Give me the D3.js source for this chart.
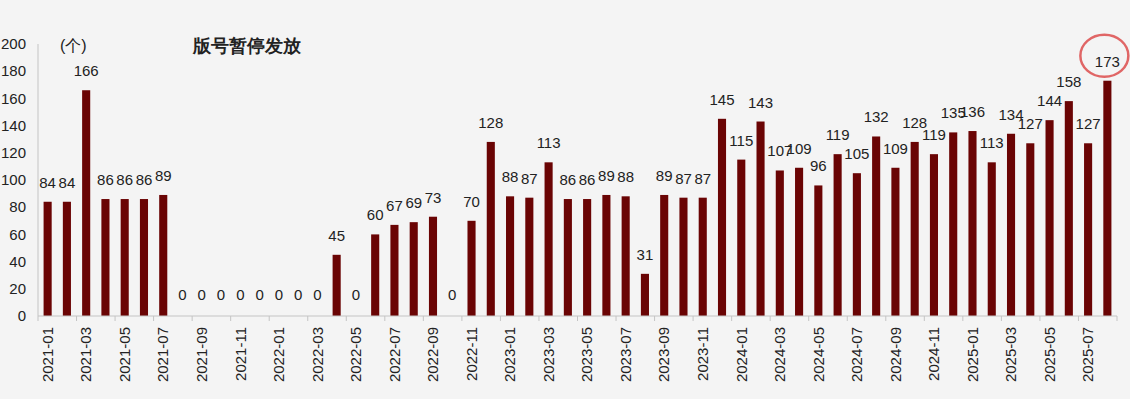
<!DOCTYPE html>
<html>
<head>
<meta charset="utf-8">
<script src="https://cdn.jsdelivr.net/npm/d3@7"></script>
<style>
  body { margin: 0; background: #f4f4f4; }
  text { font-family: "Liberation Sans", Arial, sans-serif; }
</style>
</head>
<body>
<div id="chart"></div>
<script>
// months 2021-01 .. 2025-08
const months = [
  "2021-01","2021-02","2021-03","2021-04","2021-05","2021-06","2021-07","2021-08","2021-09","2021-10","2021-11","2021-12",
  "2022-01","2022-02","2022-03","2022-04","2022-05","2022-06","2022-07","2022-08","2022-09","2022-10","2022-11","2022-12",
  "2023-01","2023-02","2023-03","2023-04","2023-05","2023-06","2023-07","2023-08","2023-09","2023-10","2023-11","2023-12",
  "2024-01","2024-02","2024-03","2024-04","2024-05","2024-06","2024-07","2024-08","2024-09","2024-10","2024-11","2024-12",
  "2025-01","2025-02","2025-03","2025-04","2025-05","2025-06","2025-07","2025-08"
];
// approved licences per month; null = no label drawn
const approvals = [
  84, 84, 166, 86, 86, 86, 89, 0, 0, 0, 0, 0,
  0, 0, 0, 45, 0, 60, 67, 69, 73, 0, 70, 128,
  88, 87, 113, 86, 86, 89, 88, 31, 89, 87, 87, 145,
  115, 143, 107, 109, 96, 119, 105, 132, 109, 128, 119, 135,
  136, 113, 134, 127, 144, 158, 127, 173
];
const yTicks = [0, 20, 40, 60, 80, 100, 120, 140, 160, 180, 200];
const title = "版号暂停发放";
const unit = "(个)";

const data = months.map((m, i) => ({ month: m, value: approvals[i] }));

const width = 1130, height = 399;
const svg = d3.select("#chart").append("svg")
  .attr("width", width)
  .attr("height", height);

svg.append("rect").attr("width", width).attr("height", height).attr("fill", "#f4f4f4");

const x = d3.scaleBand()
  .domain(months)
  .range([38, 1117])
  .paddingInner(0.58)
  .paddingOuter(0.29);

const y = d3.scaleLinear().domain([0, 200]).range([316, 44]);

// y axis labels
svg.append("g")
  .selectAll("text")
  .data(yTicks)
  .join("text")
  .attr("x", 26)
  .attr("y", d => y(d))
  .attr("dy", "0.35em")
  .attr("text-anchor", "end")
  .attr("font-size", 15)
  .attr("fill", "#222")
  .text(d => d);

// y axis line
svg.append("line")
  .attr("x1", 38).attr("x2", 38)
  .attr("y1", y(200)).attr("y2", y(0))
  .attr("stroke", "#c4c4c4");

// bars
svg.append("g")
  .selectAll("rect")
  .data(data)
  .join("rect")
  .attr("x", d => x(d.month))
  .attr("y", d => y(d.value))
  .attr("width", x.bandwidth())
  .attr("height", d => y(0) - y(d.value))
  .attr("fill", "#6a0404");

// value labels
svg.append("g")
  .selectAll("text")
  .data(data)
  .join("text")
  .attr("x", d => x(d.month) + x.bandwidth() / 2)
  .attr("y", d => y(d.value) - (d.value === 0 ? 16 : 14))
  .attr("text-anchor", "middle")
  .attr("font-size", 15)
  .attr("fill", "#222")
  .text(d => d.value);

// x axis line + ticks at category boundaries
const gap = (x.step() - x.bandwidth()) / 2;
svg.append("line")
  .attr("x1", 38).attr("x2", 1117)
  .attr("y1", y(0)).attr("y2", y(0))
  .attr("stroke", "#c4c4c4");

const tickMonths = months.filter((m, i) => i % 2 === 0);
svg.append("g")
  .selectAll("line")
  .data(tickMonths.concat(["end"]))
  .join("line")
  .attr("x1", d => d === "end" ? 1117 : x(d) - gap)
  .attr("x2", d => d === "end" ? 1117 : x(d) - gap)
  .attr("y1", y(0))
  .attr("y2", y(0) + 5)
  .attr("stroke", "#c4c4c4");

// rotated tick labels
svg.append("g")
  .selectAll("text")
  .data(tickMonths)
  .join("text")
  .attr("transform", d => `translate(${x(d) + x.bandwidth() / 2},${y(0) + 11}) rotate(-90)`)
  .attr("dy", "0.35em")
  .attr("text-anchor", "end")
  .attr("font-size", 15)
  .attr("fill", "#222")
  .text(d => d);

// unit + title
svg.append("text")
  .attr("x", 60).attr("y", 51)
  .attr("font-size", 16)
  .attr("fill", "#222")
  .text(unit);

svg.append("text")
  .attr("x", 193).attr("y", 52)
  .attr("font-family", "'Noto Sans CJK SC', sans-serif")
  .attr("font-size", 18)
  .attr("font-weight", "bold")
  .attr("fill", "#222")
  .text(title);

// highlight circle on the latest month
const last = data[data.length - 1];
svg.append("ellipse")
  .attr("cx", x(last.month) + x.bandwidth() / 2 - 3)
  .attr("cy", y(last.value) - 25)
  .attr("rx", 24)
  .attr("ry", 21)
  .attr("fill", "none")
  .attr("stroke", "#e06666")
  .attr("stroke-width", 2.5);
</script>
</body>
</html>
